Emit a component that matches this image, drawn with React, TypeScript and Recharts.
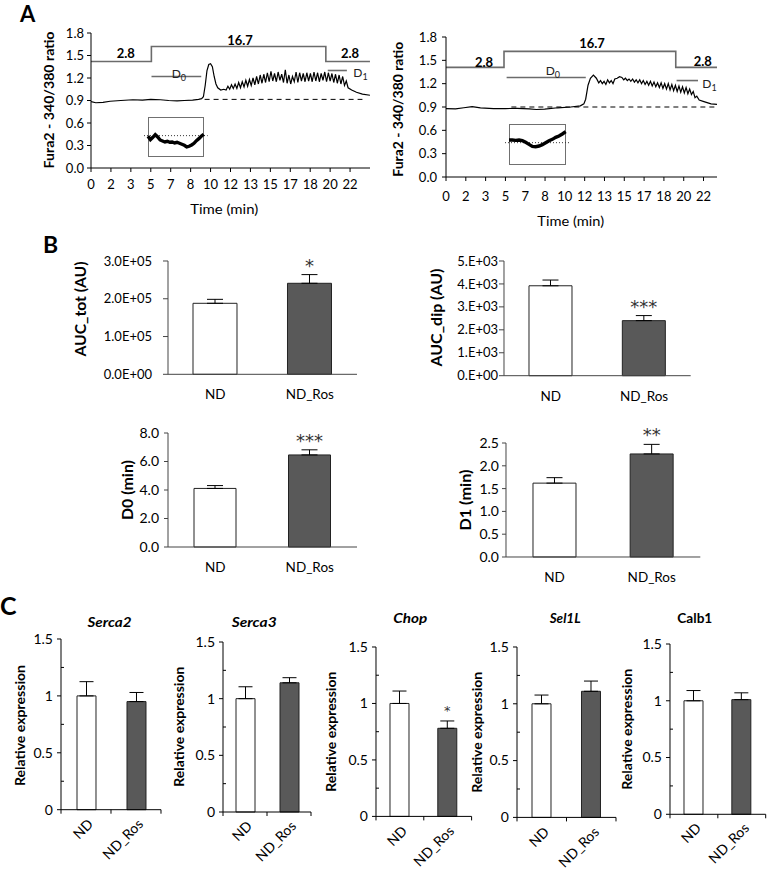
import React from 'react';
import {
  LineChart,
  Line,
  BarChart,
  Bar,
  Cell,
  XAxis,
  YAxis,
  ErrorBar,
  ReferenceLine,
  LabelList,
} from 'recharts';

const FONT = 'Lato, "Open Sans", sans-serif';
const STAR_FONT = '"DejaVu Sans", sans-serif';

// ---------- Panel A : Fura2 traces ----------
const TIME_TICK_LABELS = ['0', '2', '3', '5', '7', '8', '10', '12', '13', '15', '17', '18', '20', '22'];
const TIME_TICKS = TIME_TICK_LABELS.map((_, i) => (i * 5) / 3);
const RATIO_TICKS = [0, 0.3, 0.6, 0.9, 1.2, 1.5, 1.8];

// [time (min), 340/380 ratio]
const TRACE_ND: [number, number][] = [
  [0, 0.885], [0.4, 0.87], [1, 0.875], [1.6, 0.89], [2.5, 0.9], [3.5, 0.91], [4.3, 0.905],
  [5, 0.915], [5.8, 0.91], [6.5, 0.9], [7.2, 0.895], [7.8, 0.9], [8.5, 0.905], [9.0, 0.915],
  [9.25, 0.925], [9.4, 0.95], [9.55, 1.1], [9.7, 1.3], [9.85, 1.38], [10.0, 1.39], [10.15, 1.35],
  [10.3, 1.22], [10.45, 1.12], [10.6, 1.07], [10.85, 1.04], [11.1, 1.05], [11.3, 1.04],
  [11.45, 1.09], [11.6, 1.05], [11.75, 1.11], [11.9, 1.06], [12.05, 1.12], [12.2, 1.06],
  [12.35, 1.14], [12.5, 1.07], [12.65, 1.15], [12.8, 1.08], [12.95, 1.17], [13.1, 1.09],
  [13.25, 1.18], [13.4, 1.1], [13.55, 1.2], [13.7, 1.11], [13.85, 1.22], [14.0, 1.12],
  [14.15, 1.24], [14.3, 1.13], [14.45, 1.25], [14.6, 1.14], [14.75, 1.27], [14.9, 1.15],
  [15.05, 1.29], [15.2, 1.16], [15.35, 1.26], [15.5, 1.15], [15.65, 1.28], [15.8, 1.17],
  [15.95, 1.25], [16.1, 1.14], [16.25, 1.31], [16.4, 1.13], [16.55, 1.24], [16.7, 1.12],
  [16.85, 1.22], [17.0, 1.15], [17.15, 1.28], [17.3, 1.14], [17.45, 1.27], [17.6, 1.16],
  [17.75, 1.26], [17.9, 1.15], [18.05, 1.27], [18.2, 1.16], [18.35, 1.26], [18.5, 1.15],
  [18.65, 1.28], [18.8, 1.16], [18.95, 1.27], [19.1, 1.15], [19.25, 1.26], [19.4, 1.17],
  [19.55, 1.28], [19.7, 1.15], [19.85, 1.27], [20.0, 1.16], [20.15, 1.26], [20.3, 1.14],
  [20.45, 1.25], [20.6, 1.13], [20.75, 1.24], [20.9, 1.12], [21.05, 1.22], [21.2, 1.1],
  [21.35, 1.16], [21.5, 1.07], [21.8, 1.04], [22.2, 1.01], [22.7, 0.985], [23.33, 0.97],
];
const STEPS_ND: [number, number][] = [[0, 1.42], [5.05, 1.62], [19.64, 1.42], [23.33, 1.42]];
const D0_ND = [5.06, 9.22, 1.22]; // start, end, level
const D1_ND = [19.8, 21.4, 1.3];
const BASE_ND = [9.5, 22.7, 0.915];
const INSET_ND = [
  -0.2, -1.2, -0.5, 0.3, -0.4, -1.3, -1.6, -1.9, -1.7, -2.0, -1.9, -2.2,
  -2.0, -2.3, -2.6, -2.9, -3.4, -3.2, -2.8, -2.3, -1.5, -0.9, -0.2, 0.4,
];

const TRACE_ROS: [number, number][] = [
  [0, 0.88], [0.8, 0.875], [1.5, 0.89], [2.2, 0.905], [2.9, 0.89], [4, 0.88], [5, 0.88],
  [6, 0.882], [7, 0.875], [7.6, 0.868], [8.3, 0.872], [9.4, 0.89], [10.5, 0.9], [11.3, 0.915],
  [11.6, 0.94], [11.75, 1.0], [11.95, 1.18], [12.15, 1.27], [12.4, 1.31], [12.65, 1.27],
  [12.85, 1.21], [13.0, 1.24], [13.15, 1.2], [13.3, 1.23], [13.45, 1.19], [13.6, 1.25],
  [13.75, 1.21], [13.9, 1.24], [14.05, 1.2], [14.2, 1.26], [14.4, 1.27], [14.6, 1.29],
  [14.8, 1.28], [14.95, 1.25], [15.1, 1.27], [15.25, 1.24], [15.4, 1.26], [15.55, 1.23],
  [15.7, 1.26], [15.85, 1.22], [16.0, 1.25], [16.15, 1.21], [16.3, 1.25], [16.45, 1.2],
  [16.6, 1.24], [16.75, 1.19], [16.9, 1.23], [17.05, 1.18], [17.2, 1.23], [17.35, 1.17],
  [17.5, 1.22], [17.65, 1.16], [17.8, 1.21], [17.95, 1.15], [18.1, 1.21], [18.25, 1.14],
  [18.4, 1.2], [18.55, 1.13], [18.7, 1.2], [18.85, 1.12], [19.0, 1.19], [19.15, 1.11],
  [19.3, 1.18], [19.45, 1.1], [19.6, 1.17], [19.75, 1.09], [19.9, 1.16], [20.05, 1.08],
  [20.2, 1.15], [20.35, 1.07], [20.5, 1.13], [20.65, 1.06], [20.8, 1.1], [20.95, 1.02],
  [21.1, 1.04], [21.3, 0.99], [21.7, 0.97], [22.3, 0.94], [22.8, 0.935],
];
const STEPS_ROS: [number, number][] = [[0, 1.41], [4.88, 1.615], [19.33, 1.41], [22.8, 1.41]];
const D0_ROS = [5.1, 11.76, 1.28];
const D1_ROS = [19.4, 21.2, 1.24];
const BASE_ROS = [5.5, 22.8, 0.9];
const INSET_ROS = [
  0.8, 0.8, 0.7, 0.8, 0.6, 0.1, -0.5, -1.1, -1.2, -1.0, -0.6, 0.0, 0.6, 1.0, 1.6, 2.0, 2.6, 3.3,
];

// ---------- Panel B ----------
const GROUPS = ['ND', 'ND_Ros'];

const AUC_TOT_MEAN = [188000, 241000];
const AUC_TOT_SEM = [10500, 23000];
const AUC_TOT_SIG = ['', '*'];
const AUC_TOT_TICKS = [0, 100000, 200000, 300000];
const AUC_TOT_LABELS = ['0.0E+00', '1.0E+05', '2.0E+05', '3.0E+05'];

const AUC_DIP_MEAN = [3920, 2400];
const AUC_DIP_SEM = [250, 220];
const AUC_DIP_SIG = ['', '***'];
const AUC_DIP_TICKS = [0, 1000, 2000, 3000, 4000, 5000];
const AUC_DIP_LABELS = ['0.E+00', '1.E+03', '2.E+03', '3.E+03', '4.E+03', '5.E+03'];

const D0_MEAN = [4.11, 6.46];
const D0_SEM = [0.2, 0.36];
const D0_SIG = ['', '***'];
const D0_TICKS = [0, 2, 4, 6, 8];
const D0_LABELS = ['0.0', '2.0', '4.0', '6.0', '8.0'];

const D1_MEAN = [1.62, 2.26];
const D1_SEM = [0.12, 0.21];
const D1_SIG = ['', '**'];
const D1_TICKS = [0, 0.5, 1, 1.5, 2, 2.5];
const D1_LABELS = ['0.0', '0.5', '1.0', '1.5', '2.0', '2.5'];

// ---------- Panel C ----------
const GENES = ['Serca2', 'Serca3', 'Chop', 'Sel1L', 'Calb1'];
const GENE_ITALIC = [true, true, true, true, false];
const GENE_MEAN = [[1.0, 0.95], [1.0, 1.14], [1.0, 0.78], [1.0, 1.11], [1.0, 1.01]];
const GENE_SEM = [[0.125, 0.08], [0.105, 0.045], [0.11, 0.065], [0.077, 0.09], [0.09, 0.06]];
const GENE_SIG = [['', ''], ['', ''], ['', '*'], ['', ''], ['', '']];
const EXPR_TICKS = [0, 0.25, 0.5, 0.75, 1, 1.25, 1.5];
const EXPR_LABELS = ['0', '', '0.5', '', '1', '', '1.5'];

const BAR_FILLS = ['#ffffff', '#595959'];

type Box = { x0: number; x1: number; y0: number; y1: number };

const pts = (arr: [number, number][]) => arr.map(([t, v]) => ({ t, v }));

function TraceChart({ box, tMax, trace, steps, d0, d1, base, yGap, xGap }: any) {
  const L = 50, R = 4, T = 12, B = 34;
  const w = box.x1 - box.x0 + L + R;
  const h = box.y1 - box.y0 + T + B;
  const grey = '#6b6b6b';
  return (
    <div style={{ position: 'absolute', left: box.x0 - L, top: box.y0 - T }}>
      <LineChart width={w} height={h} margin={{ top: T, right: R, bottom: 0, left: 0 }}>
        <XAxis
          type="number"
          dataKey="t"
          domain={[0, tMax]}
          ticks={TIME_TICKS}
          interval={0}
          allowDataOverflow
          tickFormatter={(v: number) => TIME_TICK_LABELS[Math.round((v * 3) / 5)]}
          height={B}
          tickSize={4}
          tickMargin={xGap}
          stroke="#000"
          tick={{ fill: '#000', fontSize: 13 }}
        />
        <YAxis
          type="number"
          domain={[0, 1.8]}
          ticks={RATIO_TICKS}
          interval={0}
          tickFormatter={(v: number) => v.toFixed(1)}
          width={L}
          tickSize={4}
          tickMargin={yGap}
          stroke="#000"
          tick={{ fill: '#000', fontSize: 13 }}
        />
        <ReferenceLine segment={[{ x: base[0], y: base[2] }, { x: base[1], y: base[2] }]} stroke="#000" strokeDasharray="5 4" />
        <ReferenceLine segment={[{ x: d0[0], y: d0[2] }, { x: d0[1], y: d0[2] }]} stroke={grey} strokeWidth={1.6} />
        <ReferenceLine segment={[{ x: d1[0], y: d1[2] }, { x: d1[1], y: d1[2] }]} stroke={grey} strokeWidth={1.6} />
        <Line data={pts(steps)} dataKey="v" type="stepAfter" stroke={grey} strokeWidth={1.6} dot={false} isAnimationActive={false} />
        <Line data={pts(trace)} dataKey="v" type="linear" stroke="#000" strokeWidth={1.2} dot={false} isAnimationActive={false} />
      </LineChart>
    </div>
  );
}

function Inset({ box, values, domain }: { box: Box; values: number[]; domain: [number, number] }) {
  const E = 4;
  const bw = box.x1 - box.x0;
  const bh = box.y1 - box.y0;
  const n = values.length;
  const unit = (n - 1) / bw;
  return (
    <>
      <div style={{ position: 'absolute', left: box.x0, top: box.y0, width: bw, height: bh, border: '1px solid #707070', boxSizing: 'border-box', background: '#fff' }} />
      <div style={{ position: 'absolute', left: box.x0 - E, top: box.y0 }}>
        <LineChart width={bw + 2 * E} height={bh} margin={{ top: 0, right: 0, bottom: 0, left: 0 }} data={values.map((v, i) => ({ i, v }))}>
          <XAxis type="number" dataKey="i" hide domain={[-E * unit, n - 1 + E * unit]} />
          <YAxis type="number" hide domain={domain} />
          <ReferenceLine y={0} stroke="#333" strokeDasharray="1 2" />
          <Line dataKey="v" stroke="#000" strokeWidth={3.4} dot={false} isAnimationActive={false} />
        </LineChart>
      </div>
    </>
  );
}

function StatChart({ box, mean, sem, sig, ticks, labels, max, tickFont, tickSize, tickGap, barSize }: any) {
  const L = 70, R = 4, T = 34, B = 34;
  const plotH = box.y1 - box.y0;
  const w = box.x1 - box.x0 + L + R;
  const h = plotH + T + B;
  const data = GROUPS.map((g, i) => ({ g, m: mean[i], e: [0, sem[i]], s: sig[i] }));
  const axisY = T + plotH;
  const xTick = (p: any) => (
    <text x={p.x} y={axisY + 25} textAnchor="middle" fontSize={13.5} fill="#000">
      {p.payload.value}
    </text>
  );
  const star = (p: any) => {
    if (!p.value) return null;
    const errPx = (sem[p.index] / max) * plotH;
    return (
      <text x={p.x + p.width / 2} y={p.y - errPx - 3} textAnchor="middle" fontSize={18} fill="#333" fontFamily={STAR_FONT}>
        {p.value}
      </text>
    );
  };
  return (
    <div style={{ position: 'absolute', left: box.x0 - L, top: box.y0 - T }}>
      <BarChart width={w} height={h} margin={{ top: T, right: R, bottom: 0, left: 0 }} data={data} barSize={barSize}>
        <XAxis dataKey="g" height={B} tickLine={false} tickSize={0} tickMargin={0} interval={0} stroke="#444" tick={xTick} />
        <YAxis
          type="number"
          domain={[0, max]}
          ticks={ticks}
          interval={0}
          tickFormatter={(v: number) => labels[ticks.indexOf(v)]}
          width={L}
          tickSize={tickSize}
          tickMargin={tickGap}
          stroke="#444"
          tick={{ fill: '#000', fontSize: tickFont }}
        />
        <Bar dataKey="m" stroke="#222" strokeWidth={1} isAnimationActive={false}>
          {data.map((_, i) => (
            <Cell key={i} fill={BAR_FILLS[i]} />
          ))}
          <ErrorBar dataKey="e" width={8} stroke="#000" strokeWidth={1} direction="y" />
          <LabelList dataKey="s" content={star} />
        </Bar>
      </BarChart>
    </div>
  );
}

function GeneChart({ gi, box }: { gi: number; box: Box }) {
  const L = 40, R = 6, T = 12, B = 20;
  const plotW = box.x1 - box.x0;
  const plotH = box.y1 - box.y0;
  const bw = plotW / 2;
  const axisY = T + plotH;
  const data = GROUPS.map((g, i) => ({ g, m: GENE_MEAN[gi][i], e: [0, GENE_SEM[gi][i]], s: GENE_SIG[gi][i] }));
  // boundary tick marks only; the slanted category names are drawn below the chart
  const xTick = (p: any) => (
    <g>
      <line x1={p.x - bw / 2} x2={p.x - bw / 2} y1={axisY} y2={axisY + 4} stroke="#000" />
      {p.index === GROUPS.length - 1 && <line x1={p.x + bw / 2} x2={p.x + bw / 2} y1={axisY} y2={axisY + 4} stroke="#000" />}
    </g>
  );
  const yTick = (p: any) => {
    const i = EXPR_TICKS.indexOf(p.payload.value);
    const major = EXPR_LABELS[i] !== '';
    return (
      <g>
        <line x1={major ? L - 4 : L} x2={major ? L : L + 3} y1={p.y} y2={p.y} stroke="#000" />
        {major && (
          <text x={L - 8} y={p.y} dy="0.35em" textAnchor="end" fontSize={14} fill="#000">
            {EXPR_LABELS[i]}
          </text>
        )}
      </g>
    );
  };
  const star = (p: any) => {
    if (!p.value) return null;
    const errPx = (GENE_SEM[gi][p.index] / 1.5) * plotH;
    return (
      <text x={p.x + p.width / 2} y={p.y - errPx - 6} textAnchor="middle" fontSize={13} fill="#333" fontFamily={STAR_FONT}>
        {p.value}
      </text>
    );
  };
  return (
    <div style={{ position: 'absolute', left: box.x0 - L, top: box.y0 - T }}>
      <BarChart width={plotW + L + R} height={plotH + T + B} margin={{ top: T, right: R, bottom: 0, left: 0 }} data={data} barSize={19}>
        <XAxis dataKey="g" height={B} tickLine={false} tickSize={0} tickMargin={0} interval={0} stroke="#000" tick={xTick} />
        <YAxis type="number" domain={[0, 1.5]} ticks={EXPR_TICKS} interval={0} width={L} tickLine={false} tickSize={0} tickMargin={0} stroke="#000" tick={yTick} />
        <Bar dataKey="m" stroke="#222" strokeWidth={1} isAnimationActive={false}>
          {data.map((_, i) => (
            <Cell key={i} fill={BAR_FILLS[i]} />
          ))}
          <ErrorBar dataKey="e" width={7} stroke="#000" strokeWidth={1} direction="y" />
          <LabelList dataKey="s" content={star} />
        </Bar>
      </BarChart>
    </div>
  );
}

// rotated axis title, centred on (cx, cy)
const VText = ({ cx, cy, len, size, children }: any) => (
  <text
    x={cx}
    y={cy}
    transform={`rotate(-90 ${cx} ${cy})`}
    textAnchor="middle"
    dominantBaseline="central"
    fontSize={size}
    fontWeight={700}
    textLength={len}
    lengthAdjust="spacingAndGlyphs"
  >
    {children}
  </text>
);

const GENE_BOXES: Box[] = [
  { x0: 61, x1: 161, y0: 639.3, y1: 810 },
  { x0: 222.7, x1: 310.7, y0: 641.7, y1: 811.7 },
  { x0: 375.7, x1: 471.3, y0: 647.3, y1: 816.7 },
  { x0: 517.3, x1: 616.3, y0: 647.3, y1: 817.7 },
  { x0: 670, x1: 765.7, y0: 644, y1: 814.3 },
];
const GENE_TITLE_POS = [[109.5, 626.5, 44], [254.2, 627, 45], [410.3, 623.3, 34], [565.2, 623.3, 31], [694.8, 623.3, 35]];
const GENE_YLABEL_POS = [[19.5, 725.5, 121], [178.3, 726.7, 120], [330.8, 731.7, 120], [476.8, 732.2, 121], [626.8, 729.2, 121]];

// category names under a gene chart, slanted at -45° (text ends at the anchor)
const SlantLabels = ({ box }: { box: Box }) => {
  const bw = (box.x1 - box.x0) / GROUPS.length;
  return (
    <>
      {GROUPS.map((g, i) => {
        const ax = box.x0 + bw * (i + 0.5) + 8;
        const ay = box.y1 + 15;
        return (
          <div
            key={g}
            style={{ position: 'absolute', left: ax, top: ay, width: 0, height: 0, transform: 'rotate(-45deg)', transformOrigin: '0 0' }}
          >
            <div style={{ position: 'absolute', right: 0, bottom: -2, whiteSpace: 'nowrap', fontSize: 14, lineHeight: '14px', fontFamily: FONT, color: '#000' }}>
              {g}
            </div>
          </div>
        );
      })}
    </>
  );
};

export default function App() {
  return (
    <div style={{ position: 'absolute', left: 0, top: 0, width: 768, height: 872, background: '#fff', fontFamily: FONT, color: '#000' }}>
      <TraceChart box={{ x0: 91, x1: 370, y0: 33, y1: 168 }} tMax={70 / 3} trace={TRACE_ND} steps={STEPS_ND} d0={D0_ND} d1={D1_ND} base={BASE_ND} yGap={3} xGap={8} />
      <TraceChart box={{ x0: 446, x1: 717, y0: 37, y1: 177 }} tMax={22.8} trace={TRACE_ROS} steps={STEPS_ROS} d0={D0_ROS} d1={D1_ROS} base={BASE_ROS} yGap={5} xGap={11} />
      <Inset box={{ x0: 148.3, x1: 204, y0: 116.7, y1: 157.3 }} values={INSET_ND} domain={[-6.6, 5.6]} />
      <Inset box={{ x0: 509, x1: 565.7, y0: 124, y1: 165 }} values={INSET_ROS} domain={[-6.7, 5.6]} />

      <StatChart box={{ x0: 168, x1: 357, y0: 261, y1: 374.3 }} mean={AUC_TOT_MEAN} sem={AUC_TOT_SEM} sig={AUC_TOT_SIG} ticks={AUC_TOT_TICKS} labels={AUC_TOT_LABELS} max={300000} tickFont={13} tickSize={5} tickGap={11} barSize={44} />
      <StatChart box={{ x0: 504, x1: 690.7, y0: 261, y1: 375.7 }} mean={AUC_DIP_MEAN} sem={AUC_DIP_SEM} sig={AUC_DIP_SIG} ticks={AUC_DIP_TICKS} labels={AUC_DIP_LABELS} max={5000} tickFont={13} tickSize={5} tickGap={1} barSize={43} />
      <StatChart box={{ x0: 168.3, x1: 357.3, y0: 433.3, y1: 547.3 }} mean={D0_MEAN} sem={D0_SEM} sig={D0_SIG} ticks={D0_TICKS} labels={D0_LABELS} max={8} tickFont={14} tickSize={4} tickGap={5} barSize={42} />
      <StatChart box={{ x0: 505.7, x1: 700, y0: 443.3, y1: 557.3 }} mean={D1_MEAN} sem={D1_SEM} sig={D1_SIG} ticks={D1_TICKS} labels={D1_LABELS} max={2.5} tickFont={14} tickSize={4} tickGap={3} barSize={43} />

      {GENES.map((_, gi) => (
        <GeneChart key={gi} gi={gi} box={GENE_BOXES[gi]} />
      ))}
      {GENE_BOXES.map((b, gi) => (
        <SlantLabels key={gi} box={b} />
      ))}

      <svg width={768} height={872} style={{ position: 'absolute', left: 0, top: 0, pointerEvents: 'none', fontFamily: FONT }}>
        <g fill="#000">
          <text x={20} y={21.7} fontSize={22} fontWeight={700}>A</text>
          <text x={43} y={253.3} fontSize={23} fontWeight={700}>B</text>
          <text x={0} y={615} fontSize={25} fontWeight={700}>C</text>

          <VText cx={48.3} cy={100} len={137} size={14}>Fura2 - 340/380 ratio</VText>
          <VText cx={397.3} cy={109.2} len={135} size={14}>Fura2 - 340/380 ratio</VText>
          <text x={224.2} y={213.7} textAnchor="middle" fontSize={14} textLength={68} lengthAdjust="spacingAndGlyphs">Time (min)</text>
          <text x={570.7} y={226} textAnchor="middle" fontSize={14} textLength={66.7} lengthAdjust="spacingAndGlyphs">Time (min)</text>

          <g fontSize={13} fontWeight={700} textAnchor="middle">
            <text x={125.8} y={58.3}>2.8</text>
            <text x={240} y={45}>16.7</text>
            <text x={350} y={58.3}>2.8</text>
            <text x={484} y={66.7}>2.8</text>
            <text x={592} y={48.3}>16.7</text>
            <text x={702.8} y={66}>2.8</text>
          </g>
          <g fontSize={12} fill="#222">
            <text x={171.7} y={78.3}>D<tspan fontSize={9} dy={3}>0</tspan></text>
            <text x={353.3} y={76.7}>D<tspan fontSize={9} dy={3}>1</tspan></text>
            <text x={545.7} y={75}>D<tspan fontSize={9} dy={3}>0</tspan></text>
            <text x={702.3} y={88.3}>D<tspan fontSize={9} dy={3}>1</tspan></text>
          </g>

          <VText cx={80} cy={309} len={95} size={15}>AUC_tot (AU)</VText>
          <VText cx={435.7} cy={317.5} len={98} size={15}>AUC_dip  (AU)</VText>
          <VText cx={126.7} cy={490} len={60} size={15}>D0 (min)</VText>
          <VText cx={464.7} cy={500} len={61} size={15}>D1  (min)</VText>

          {GENES.map((g, gi) => (
            <text
              key={g}
              x={GENE_TITLE_POS[gi][0]}
              y={GENE_TITLE_POS[gi][1]}
              textAnchor="middle"
              fontSize={14}
              fontWeight={700}
              fontStyle={GENE_ITALIC[gi] ? 'italic' : 'normal'}
              textLength={GENE_TITLE_POS[gi][2]}
              lengthAdjust="spacingAndGlyphs"
            >
              {g}
            </text>
          ))}
          {GENES.map((g, gi) => (
            <VText key={g} cx={GENE_YLABEL_POS[gi][0]} cy={GENE_YLABEL_POS[gi][1]} len={GENE_YLABEL_POS[gi][2]} size={14}>
              Relative expression
            </VText>
          ))}
        </g>
      </svg>
    </div>
  );
}
